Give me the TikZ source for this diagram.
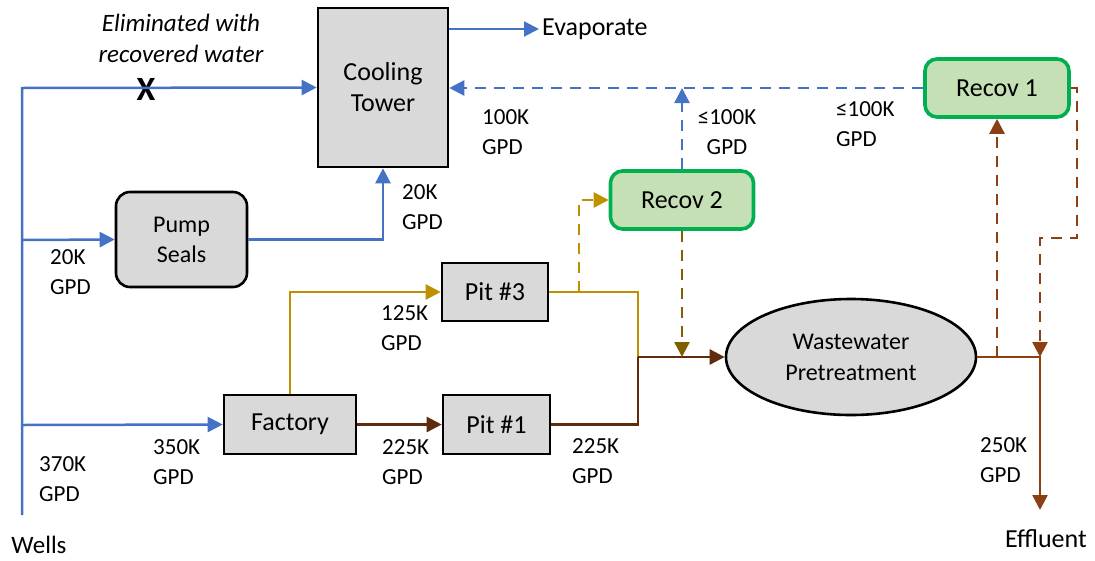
\documentclass[tikz,border=0pt]{standalone}
\usepackage{fontspec}
\setmainfont{Carlito}
\usetikzlibrary{arrows.meta,shapes.geometric}

\definecolor{flowblue}{HTML}{4472C4}
\definecolor{flowgold}{HTML}{BF9000}
\definecolor{darkbrown}{HTML}{5E2B0C}
\definecolor{rustbrown}{HTML}{8B3F12}
\definecolor{olivebrown}{HTML}{7F6000}
\definecolor{recgreen}{HTML}{00B050}
\definecolor{recfill}{HTML}{C5E0B4}
\definecolor{boxgray}{HTML}{D9D9D9}

\tikzset{
  tip/.tip={Triangle[length=15pt,width=15pt]},
  unit/.style={draw=black, line width=2.6pt, fill=boxgray, align=center, inner sep=0pt,
    font=\fontsize{26}{31}\selectfont},
  recovbox/.style={draw=recgreen, line width=3.6pt, fill=recfill, rounded corners=12pt,
    align=center, inner sep=0pt, font=\fontsize{26}{31}\selectfont},
  flowlabel/.style={anchor=west, inner sep=0pt, align=left, font=\fontsize{23}{30}\selectfont},
  plaintext/.style={inner sep=0pt, font=\fontsize{25}{30}\selectfont},
  pipe/.style={line width=2.5pt, line join=miter},
  bluepipe/.style={pipe, draw=flowblue},
  goldpipe/.style={pipe, draw=flowgold},
  brownpipe/.style={pipe, draw=darkbrown},
  rustpipe/.style={pipe, draw=rustbrown},
  dashpipe/.style={dash pattern=on 11pt off 8pt},
  arrowed/.style={-tip}
}

\begin{document}
\begin{tikzpicture}[x=1pt, y=-1pt]
\useasboundingbox (0,0) rectangle (1095,560);

% process units
\node[unit, minimum width=130pt, minimum height=159pt] (tower) at (383,87.5) {Cooling\\Tower};
\node[unit, minimum width=131pt, minimum height=95pt, rounded corners=14pt,
      font=\fontsize{24}{30}\selectfont] (pump) at (181.5,239.5) {Pump\\Seals};
\node[unit, minimum width=132pt, minimum height=59pt] (factory) at (290,424.5) {Factory};
\node[unit, minimum width=106pt, minimum height=58pt] (pit3) at (495,292) {Pit \#3};
\node[unit, minimum width=107pt, minimum height=59pt] (pit1) at (496.5,424.5) {Pit \#1};
\node[unit, ellipse, minimum width=250pt, minimum height=116pt,
      font=\fontsize{24}{31}\selectfont] (wwtp) at (851,357) {Wastewater\\Pretreatment};
\node[recovbox, minimum width=143pt, minimum height=58pt] (recov2) at (682,200) {Recov 2};
\node[recovbox, minimum width=144pt, minimum height=58pt] (recov1) at (997,88) {Recov 1};

% free ends and junctions
\coordinate (wtop) at (22,88);
\coordinate (wbot) at (22,515);
\coordinate (wpump) at (22,240);
\coordinate (wfac) at (22,425);
\coordinate (merge) at (638,357);
\coordinate (pit3tap) at (579,292);
\coordinate (efftop) at (1040,357);
\coordinate (effend) at (1040,510);
\coordinate (r1a) at (1077,88);
\coordinate (r1b) at (1077,238);
\coordinate (r1c) at (1040,238);

% text
\node[plaintext] (wells) at (39,545) {Wells};
\node[plaintext, font=\fontsize{26}{30}\selectfont] (effluent) at (1046,539) {Effluent};
\node[plaintext, anchor=west, font=\fontsize{26}{30}\selectfont] (evap) at (542,29) {Evaporate};
\node[plaintext, align=center, font=\itshape\fontsize{25}{31}\selectfont] (elim) at (181,38) {Eliminated with\\recovered water};
\node[inner sep=0pt, font=\fontsize{34}{34}\selectfont\bfseries] (xmark) at (146,89) {X};

% fresh water (blue)
\draw[bluepipe, arrowed] (wbot) -- (wtop) -- (tower.west);
\draw[bluepipe, arrowed] (wpump) -- (pump.west);
\draw[bluepipe, arrowed] (wfac) -- (factory.west);
\draw[bluepipe, arrowed] (pump.east) -| (tower.south);
\draw[bluepipe, arrowed, line width=2pt] (tower.east |- evap) -- ([xshift=-3pt]evap.west);

% process wastewater
\draw[goldpipe, arrowed] (factory.north) |- (pit3.west);
\draw[goldpipe] (pit3.east) -| (merge);
\draw[brownpipe, arrowed] (factory.east) -- (pit1.west);
\draw[brownpipe] (pit1.east) -| (merge);
\draw[brownpipe, arrowed] (merge) -- (wwtp.west);
\draw[rustpipe, arrowed] (wwtp.east) -| (effend);

% recovered water (dashed)
\draw[goldpipe, dashpipe, arrowed] (pit3tap) |- (recov2.west);
\draw[bluepipe, dashpipe, arrowed] (recov2.north) -- (recov2.north |- recov1.west);
\draw[bluepipe, dashpipe, arrowed] (recov1.west) -- (tower.east |- recov1.west);
\draw[pipe, draw=olivebrown, dashpipe, arrowed] (recov2.south) -- (recov2.south |- merge);
\draw[rustpipe, dashpipe, arrowed] (recov1.south |- wwtp.east) -- (recov1.south);
\draw[rustpipe, dashpipe, arrowed] (recov1.east) -- (r1a) -- (r1b) -- (r1c) -- (efftop);

% flow labels
\node[flowlabel] (l20a) at (50,272) {20K\\GPD};
\node[flowlabel] (l20b) at (402,207) {20K\\GPD};
\node[flowlabel] (l100) at (482,132) {100K\\GPD};
\node[flowlabel, anchor=center, align=center] (l100b) at (727,132) {≤100K\\GPD};
\node[flowlabel] (l100c) at (836,124) {≤100K\\GPD};
\node[flowlabel] (l125) at (381,328) {125K\\GPD};
\node[flowlabel] (l350) at (153,462) {350K\\GPD};
\node[flowlabel] (l370) at (39,479) {370K\\GPD};
\node[flowlabel] (l225a) at (382,462) {225K\\GPD};
\node[flowlabel] (l225b) at (572,461) {225K\\GPD};
\node[flowlabel] (l250) at (980,460) {250K\\GPD};
\end{tikzpicture}
\end{document}
